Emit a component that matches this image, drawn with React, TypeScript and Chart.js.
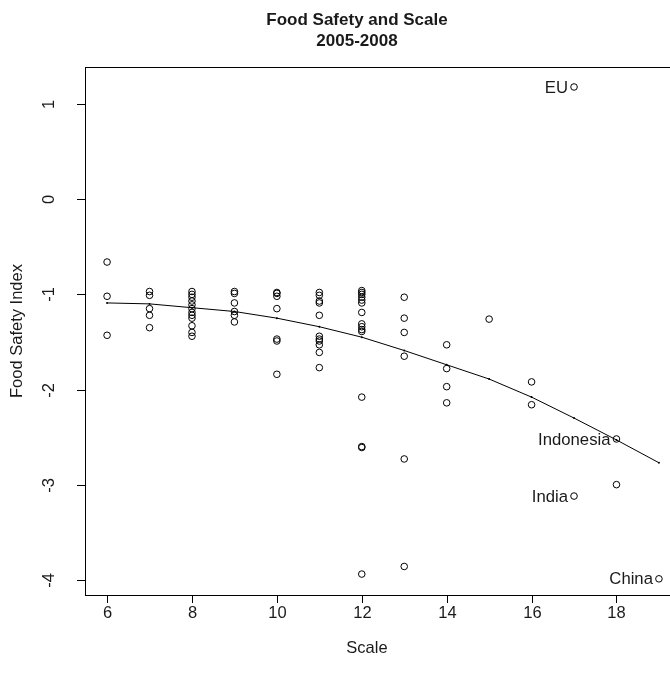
import React, { useEffect, useRef } from "react";
import { Chart, registerables } from "chart.js";

Chart.register(...registerables);

// ---- data ----
const scaleX = [
  6, 6, 6,
  7, 7, 7, 7, 7,
  8, 8, 8, 8, 8, 8, 8, 8, 8, 8, 8, 8,
  9, 9, 9, 9, 9, 9,
  10, 10, 10, 10, 10, 10, 10,
  11, 11, 11, 11, 11, 11, 11, 11, 11, 11, 11,
  12, 12, 12, 12, 12, 12, 12, 12, 12, 12, 12, 12, 12, 12, 12,
  13, 13, 13, 13, 13, 13,
  14, 14, 14, 14,
  15,
  16, 16,
  17, 17,
  18, 18,
  19,
];
const safetyIndex = [
  -0.66, -1.02, -1.43,
  -0.97, -1.01, -1.15, -1.22, -1.35,
  -0.97, -1.0, -1.03, -1.07, -1.11, -1.15, -1.19, -1.22, -1.25, -1.33, -1.4, -1.44,
  -0.97, -0.99, -1.09, -1.18, -1.22, -1.29,
  -0.98, -0.99, -1.02, -1.15, -1.47, -1.49, -1.84,
  -0.98, -1.01, -1.07, -1.09, -1.22, -1.44, -1.47, -1.49, -1.53, -1.61, -1.77,
  -0.96, -0.98, -1.0, -1.03, -1.06, -1.09, -1.19, -1.31, -1.34, -1.37, -1.39, -2.08, -2.6, -2.61, -3.94,
  -1.03, -1.25, -1.4, -1.65, -2.73, -3.86,
  -1.53, -1.78, -1.97, -2.14,
  -1.26,
  -1.92, -2.16,
  1.18, -3.12,
  -2.52, -3.0,
  -3.99,
];
const fitX = [6, 7, 8, 9, 10, 11, 12, 13, 14, 15, 16, 17, 18, 19];
const fitY = [-1.09, -1.1, -1.14, -1.18, -1.25, -1.34, -1.45, -1.59, -1.74, -1.89, -2.08, -2.3, -2.53, -2.77];
const labelNames = ["EU", "Indonesia", "India", "China"];
const labelX = [17, 18, 17, 19];
const labelY = [1.18, -2.52, -3.12, -3.99];
const xTicks = [6, 8, 10, 12, 14, 16, 18];
const yTicks = [-4, -3, -2, -1, 0, 1];
const titleLines = ["Food Safety and Scale", "2005-2008"];
const xTitle = "Scale";
const yTitle = "Food Safety Index";

const FONT = '"Liberation Sans", Arial, Helvetica, sans-serif';
const TEXT = "#1a1a1a";

const rOverlay = {
  id: "rOverlay",
  afterDraw(chart: any) {
    const { ctx, chartArea: a, scales } = chart;
    const xs = scales.x;
    const ys = scales.y;
    ctx.save();
    ctx.strokeStyle = "#000";
    ctx.fillStyle = TEXT;
    ctx.lineWidth = 1;
    // box
    ctx.strokeRect(Math.round(a.left) + 0.5, Math.round(a.top) + 0.5, Math.round(a.right - a.left), Math.round(a.bottom - a.top));

    // x axis
    ctx.font = `16.5px ${FONT}`;
    ctx.textAlign = "center";
    ctx.textBaseline = "middle";
    xTicks.forEach((t) => {
      const px = Math.round(xs.getPixelForValue(t)) + 0.5;
      ctx.beginPath();
      ctx.moveTo(px, a.bottom);
      ctx.lineTo(px, a.bottom + 8);
      ctx.stroke();
      ctx.fillText(String(t), px, a.bottom + 18);
    });
    // y axis
    yTicks.forEach((t) => {
      const py = Math.round(ys.getPixelForValue(t)) + 0.5;
      ctx.beginPath();
      ctx.moveTo(a.left, py);
      ctx.lineTo(a.left - 8, py);
      ctx.stroke();
      ctx.save();
      ctx.translate(a.left - 36, py);
      ctx.rotate(-Math.PI / 2);
      ctx.fillText(String(t), 0, 0);
      ctx.restore();
    });
    // axis titles
    const cy = (a.top + a.bottom) / 2;
    ctx.fillText(xTitle, 367, 648);
    ctx.save();
    ctx.translate(17, cy);
    ctx.rotate(-Math.PI / 2);
    ctx.fillText(yTitle, 0, 0);
    ctx.restore();

    // main title
    ctx.font = `bold 17px ${FONT}`;
    ctx.fillText(titleLines[0], 357, 20);
    ctx.fillText(titleLines[1], 357, 41);

    // point labels (pos = 2: left of point)
    ctx.font = `16.7px ${FONT}`;
    ctx.textAlign = "right";
    labelNames.forEach((n, i) => {
      const px = xs.getPixelForValue(labelX[i]);
      const py = ys.getPixelForValue(labelY[i]);
      ctx.fillText(n, px - 6, py + 1);
    });
    ctx.restore();
  },
};

export default function App() {
  const ref = useRef<HTMLCanvasElement | null>(null);
  useEffect(() => {
    if (!ref.current) return;
    const points = scaleX.map((x, i) => ({ x, y: safetyIndex[i] }));
    const fit = fitX.map((x, i) => ({ x, y: fitY[i] }));
    const chart = new Chart(ref.current, {
      type: "scatter",
      data: {
        datasets: [
          {
            label: "fit",
            data: fit,
            showLine: true,
            borderColor: "#000",
            backgroundColor: "#000",
            borderWidth: 1,
            pointRadius: 1,
            pointBorderWidth: 0,
            tension: 0,
          },
          {
            label: "countries",
            data: points,
            pointStyle: "circle",
            pointRadius: 3.3,
            pointBorderWidth: 1,
            borderColor: "#000",
            backgroundColor: "rgba(0,0,0,0)",
          },
        ],
      },
      options: {
        responsive: false,
        animation: false,
        events: [],
        layout: { padding: { left: 85, top: 67, right: 19, bottom: 90 } },
        plugins: { legend: { display: false }, tooltip: { enabled: false }, title: { display: false } },
        scales: {
          x: { type: "linear", min: 5.48, max: 19.52, display: false },
          y: { type: "linear", min: -4.16, max: 1.39, display: false },
        },
      },
      plugins: [rOverlay],
    });
    return () => chart.destroy();
  }, []);
  return (
    <div style={{ position: "fixed", left: 0, top: 0, width: 670, height: 685, overflow: "hidden", background: "#fff" }}>
      <canvas ref={ref} width={700} height={685} style={{ width: 700, height: 685, display: "block" }} />
    </div>
  );
}
